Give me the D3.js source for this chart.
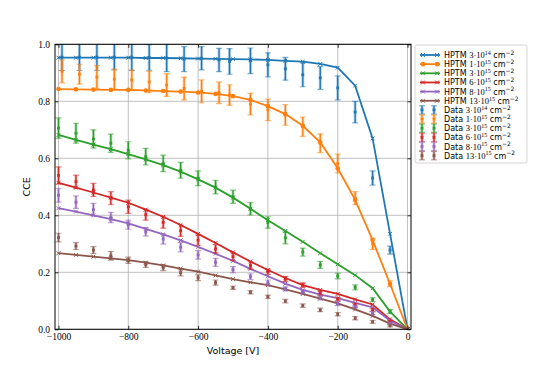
<!DOCTYPE html>
<html>
<head>
<meta charset="utf-8">
<script src="https://cdn.jsdelivr.net/npm/d3@7"></script>
<style>
  body { margin: 0; background: #fff; }
  svg { display: block; }
</style>
</head>
<body>
<div id="graphic"></div>
<script>
// voltages of the model curves and of the two kinds of measurement
var hptmVolts = [-1000, -950, -900, -850, -800, -750, -700, -650, -600, -550, -500,
                 -450, -400, -350, -300, -250, -200, -150, -100, -50, 0];
var dataVoltsA = [-990, -940, -890, -840, -790, -740, -690, -640, -590, -540, -510,
                  -450, -400, -350, -300, -250, -200, -150, -100, -50];
var dataVoltsB = [-1000, -950, -900, -850, -800, -750, -700, -650, -600, -550, -500,
                  -450, -400, -350, -300, -250, -200, -150, -100, -50];

// fluence labels: mantissa and exponent
var fluenceMant = ['3', '1', '3', '6', '8', '13'];
var fluenceExp = ['14', '15', '15', '15', '15', '15'];
var colors = ['#1f77b4', '#ff7f0e', '#2ca02c', '#d62728', '#9467bd', '#8c564b'];

// HPTM simulation CCE
var hptm3e14 = [0.953, 0.953, 0.953, 0.953, 0.953, 0.952, 0.952, 0.951, 0.950, 0.949, 0.948,
                0.947, 0.945, 0.942, 0.939, 0.931, 0.918, 0.855, 0.670, 0.335, 0];
var hptm1e15 = [0.843, 0.842, 0.841, 0.840, 0.840, 0.838, 0.836, 0.834, 0.831, 0.826, 0.818,
                0.805, 0.783, 0.755, 0.714, 0.656, 0.565, 0.454, 0.313, 0.159, 0];
var hptm3e15 = [0.682, 0.665, 0.648, 0.632, 0.615, 0.596, 0.576, 0.553, 0.526, 0.497, 0.462,
                0.423, 0.383, 0.345, 0.307, 0.267, 0.228, 0.190, 0.144, 0.062, 0];
var hptm6e15 = [0.514, 0.497, 0.480, 0.462, 0.444, 0.420, 0.395, 0.366, 0.335, 0.303, 0.270,
                0.238, 0.208, 0.180, 0.155, 0.138, 0.124, 0.105, 0.087, 0.035, 0];
var hptm8e15 = [0.425, 0.413, 0.400, 0.387, 0.372, 0.352, 0.333, 0.312, 0.289, 0.265, 0.240,
                0.212, 0.186, 0.160, 0.138, 0.122, 0.109, 0.093, 0.077, 0.030, 0];
var hptm13e15 = [0.267, 0.261, 0.255, 0.249, 0.243, 0.234, 0.224, 0.213, 0.202, 0.189, 0.176,
                 0.165, 0.155, 0.140, 0.124, 0.108, 0.091, 0.070, 0.047, 0.020, 0];

// measured CCE and its uncertainty
var data3e14 = [0.955, 0.955, 0.955, 0.955, 0.955, 0.954, 0.952, 0.948, 0.951, 0.945, 0.940,
                0.942, 0.928, 0.914, 0.893, 0.882, 0.847, 0.762, 0.531, 0.278];
var err3e14 = [0.047, 0.047, 0.047, 0.045, 0.047, 0.045, 0.048, 0.044, 0.041, 0.041, 0.045,
               0.045, 0.042, 0.040, 0.042, 0.040, 0.042, 0.038, 0.025, 0.014];
var data1e15 = [0.905, 0.895, 0.885, 0.878, 0.875, 0.868, 0.857, 0.845, 0.835, 0.830, 0.822,
                0.790, 0.770, 0.752, 0.711, 0.653, 0.582, 0.460, 0.300, 0.160];
var err1e15 = [0.040, 0.035, 0.040, 0.035, 0.035, 0.038, 0.040, 0.040, 0.040, 0.038, 0.036,
               0.038, 0.038, 0.036, 0.034, 0.033, 0.033, 0.023, 0.020, 0.010];
var data3e15 = [0.706, 0.688, 0.668, 0.653, 0.628, 0.606, 0.582, 0.558, 0.530, 0.499, 0.465,
                0.423, 0.375, 0.321, 0.271, 0.226, 0.187, 0.147, 0.104, 0.062];
var err3e15 = [0.036, 0.035, 0.032, 0.032, 0.030, 0.029, 0.029, 0.028, 0.026, 0.024, 0.023,
               0.022, 0.020, 0.021, 0.014, 0.012, 0.010, 0.009, 0.007, 0.007];
var data6e15 = [0.540, 0.518, 0.489, 0.460, 0.430, 0.402, 0.375, 0.346, 0.313, 0.282, 0.255,
                0.224, 0.202, 0.176, 0.155, 0.128, 0.106, 0.085, 0.068, 0.027];
var err6e15 = [0.030, 0.023, 0.023, 0.023, 0.023, 0.019, 0.020, 0.020, 0.018, 0.015, 0.014,
               0.013, 0.009, 0.009, 0.008, 0.008, 0.006, 0.006, 0.005, 0.004];
var data8e15 = [0.470, 0.446, 0.420, 0.392, 0.367, 0.342, 0.317, 0.288, 0.261, 0.235, 0.209,
                0.185, 0.164, 0.142, 0.131, 0.110, 0.090, 0.080, 0.056, 0.021];
var err8e15 = [0.024, 0.022, 0.022, 0.018, 0.016, 0.015, 0.018, 0.016, 0.015, 0.014, 0.011,
               0.010, 0.009, 0.007, 0.007, 0.007, 0.007, 0.005, 0.005, 0.004];
var data13e15 = [0.322, 0.292, 0.278, 0.258, 0.242, 0.227, 0.216, 0.199, 0.181, 0.164, 0.146,
                 0.130, 0.114, 0.099, 0.083, 0.068, 0.053, 0.039, 0.026, 0.012];
var err13e15 = [0.015, 0.012, 0.012, 0.015, 0.011, 0.010, 0.010, 0.012, 0.010, 0.009, 0.006,
                0.006, 0.006, 0.006, 0.006, 0.006, 0.006, 0.006, 0.005, 0.004];

var xTicks = [-1000, -800, -600, -400, -200, 0];
var yTicks = [0, 0.2, 0.4, 0.6, 0.8, 1.0];

drawChart();

function drawChart() {

    var hptmSeries = [hptm3e14, hptm1e15, hptm3e15, hptm6e15, hptm8e15, hptm13e15];
    var dataSeries = [data3e14, data1e15, data3e15, data6e15, data8e15, data13e15];
    var errSeries = [err3e14, err1e15, err3e15, err6e15, err8e15, err13e15];
    var dataVolts = [dataVoltsA, dataVoltsA, dataVoltsB, dataVoltsB, dataVoltsB, dataVoltsB];

    var svgWidth = 548, svgHeight = 366;
    var plotLeft = 55, plotRight = 411, plotTop = 44.3, plotBottom = 329.3;

    var svg = d3.select("#graphic").append("svg")
        .attr("width", svgWidth)
        .attr("height", svgHeight);

    var x = d3.scaleLinear().domain([-1010, 10]).range([plotLeft, plotRight]);
    var y = d3.scaleLinear().domain([0, 1]).range([plotBottom, plotTop]);

    svg.append("defs").append("clipPath").attr("id", "plotclip")
      .append("rect")
        .attr("x", plotLeft).attr("y", plotTop)
        .attr("width", plotRight - plotLeft).attr("height", plotBottom - plotTop);

    // grid
    var grid = svg.append("g");
    grid.selectAll(".gx").data(xTicks).enter().append("line")
        .attr("x1", d => x(d)).attr("x2", d => x(d))
        .attr("y1", plotTop).attr("y2", plotBottom)
        .attr("stroke", "#b0b0b0").attr("stroke-width", 0.8);
    grid.selectAll(".gy").data(yTicks).enter().append("line")
        .attr("x1", plotLeft).attr("x2", plotRight)
        .attr("y1", d => y(d)).attr("y2", d => y(d))
        .attr("stroke", "#b0b0b0").attr("stroke-width", 0.8);

    var plot = svg.append("g").attr("clip-path", "url(#plotclip)");

    // HPTM lines
    var line = d3.line().x((d, i) => x(hptmVolts[i])).y(d => y(d));
    hptmSeries.forEach(function(s, k) {
        var g = plot.append("g");
        g.append("path").datum(s)
            .attr("d", line)
            .attr("fill", "none")
            .attr("stroke", colors[k])
            .attr("stroke-width", 1.8);
        if (k == 1) {
            g.selectAll("circle").data(s).enter().append("circle")
                .attr("cx", (d, i) => x(hptmVolts[i]))
                .attr("cy", d => y(d))
                .attr("r", 2.3)
                .attr("fill", colors[k]);
        } else {
            g.selectAll("path.m").data(s).enter().append("path")
                .attr("class", "m")
                .attr("d", (d, i) => crossPath(x(hptmVolts[i]), y(d), 1.9))
                .attr("stroke", colors[k])
                .attr("stroke-width", 1);
        }
    });

    // measured data with error bars
    dataSeries.forEach(function(s, k) {
        var g = plot.append("g");
        s.forEach(function(v, i) {
            drawErrorBar(g, x(dataVolts[k][i]), y(v), y(v + errSeries[k][i]), y(v - errSeries[k][i]), colors[k]);
        });
    });

    // axes, ticks pointing inward
    var xAxis = svg.append("g").attr("transform", "translate(0," + plotBottom + ")")
        .call(d3.axisBottom(x).tickValues(xTicks).tickFormat(d3.format("d"))
            .tickSizeInner(-3.5).tickSizeOuter(0).tickPadding(4));
    var yAxis = svg.append("g").attr("transform", "translate(" + plotLeft + ",0)")
        .call(d3.axisLeft(y).tickValues(yTicks).tickFormat(d3.format(".1f"))
            .tickSizeInner(-3.5).tickSizeOuter(0).tickPadding(5));
    var xTop = svg.append("g").attr("transform", "translate(0," + plotTop + ")")
        .call(d3.axisTop(x).tickValues(xTicks).tickSizeInner(-3.5).tickSizeOuter(0).tickFormat(""));
    var yRight = svg.append("g").attr("transform", "translate(" + plotRight + ",0)")
        .call(d3.axisRight(y).tickValues(yTicks).tickSizeInner(-3.5).tickSizeOuter(0).tickFormat(""));

    [xAxis, yAxis, xTop, yRight].forEach(function(a) {
        a.select(".domain").remove();
        a.selectAll("line").attr("stroke", "#000").attr("stroke-width", 0.8);
        a.selectAll("text")
            .style("font-family", "'Liberation Serif', 'DejaVu Serif', serif")
            .style("font-size", "9.5px")
            .attr("fill", "#000");
    });

    svg.append("rect")
        .attr("x", plotLeft).attr("y", plotTop)
        .attr("width", plotRight - plotLeft).attr("height", plotBottom - plotTop)
        .attr("fill", "none").attr("stroke", "#000").attr("stroke-width", 1);

    svg.append("text")
        .attr("x", (plotLeft + plotRight) / 2).attr("y", 354)
        .attr("text-anchor", "middle")
        .style("font-family", "'DejaVu Sans', sans-serif").style("font-size", "9.5px")
        .text("Voltage [V]");
    svg.append("text")
        .attr("transform", "translate(30," + ((plotTop + plotBottom) / 2) + ") rotate(-90)")
        .attr("text-anchor", "middle")
        .style("font-family", "'DejaVu Sans', sans-serif").style("font-size", "9.5px")
        .text("CCE");

    // legend
    var legend = svg.append("g");
    legend.append("rect")
        .attr("x", 415).attr("y", 45).attr("width", 112).attr("height", 118)
        .attr("rx", 2)
        .attr("fill", "#fff").attr("fill-opacity", 0.85)
        .attr("stroke", "#cccccc").attr("stroke-width", 0.8);

    var rowY = 55, rowStep = 9.15;
    var labels = [];
    fluenceMant.forEach(function(m, k) { labels.push({kind: "HPTM", k: k}); });
    fluenceMant.forEach(function(m, k) { labels.push({kind: "Data", k: k}); });

    labels.forEach(function(d, r) {
        var cy = rowY + r * rowStep;
        var c = colors[d.k];
        if (d.kind == "HPTM") {
            legend.append("line").attr("x1", 420).attr("x2", 440).attr("y1", cy).attr("y2", cy)
                .attr("stroke", c).attr("stroke-width", 1.8);
            [423, 437].forEach(function(mx) {
                if (d.k == 1) {
                    legend.append("circle").attr("cx", mx).attr("cy", cy).attr("r", 2.3).attr("fill", c);
                } else {
                    legend.append("path").attr("d", crossPath(mx, cy, 1.9))
                        .attr("stroke", c).attr("stroke-width", 1);
                }
            });
        } else {
            [422, 434].forEach(function(mx) {
                drawErrorBar(legend, mx, cy, cy - 4.2, cy + 4.2, c);
            });
        }
        var t = legend.append("text")
            .attr("x", 444).attr("y", cy + 3)
            .style("font-family", "'DejaVu Sans', sans-serif").style("font-size", "8px");
        t.append("tspan").text(d.kind + " ");
        t.append("tspan").style("font-family", "'Liberation Serif', serif").style("font-size", "8.5px")
            .text(fluenceMant[d.k] + "\u00b710");
        t.append("tspan").style("font-family", "'Liberation Serif', serif").style("font-size", "6px")
            .attr("dy", -3.2).text(fluenceExp[d.k]);
        t.append("tspan").attr("dy", 3.2).text(" cm");
        t.append("tspan").style("font-size", "6px").attr("dy", -3.2).text("\u22122");
    });
}

function crossPath(cx, cy, r) {
    return "M" + (cx - r) + "," + (cy - r) + "L" + (cx + r) + "," + (cy + r) +
           "M" + (cx - r) + "," + (cy + r) + "L" + (cx + r) + "," + (cy - r);
}

function drawErrorBar(g, cx, cy, yTop, yBot, color) {
    var cap = 3;
    g.append("line").attr("x1", cx).attr("x2", cx).attr("y1", yTop).attr("y2", yBot)
        .attr("stroke", color).attr("stroke-width", 3).attr("stroke-opacity", 0.35);
    g.append("line").attr("x1", cx - cap).attr("x2", cx + cap).attr("y1", yTop).attr("y2", yTop)
        .attr("stroke", color).attr("stroke-width", 1.2).attr("stroke-opacity", 0.55);
    g.append("line").attr("x1", cx - cap).attr("x2", cx + cap).attr("y1", yBot).attr("y2", yBot)
        .attr("stroke", color).attr("stroke-width", 1.2).attr("stroke-opacity", 0.55);
    g.append("line").attr("x1", cx).attr("x2", cx).attr("y1", yTop).attr("y2", yBot)
        .attr("stroke", color).attr("stroke-width", 1.3);
    g.append("rect").attr("x", cx - 1.4).attr("y", cy - 1.4)
        .attr("width", 2.8).attr("height", 2.8).attr("fill", color);
}
</script>
</body>
</html>
